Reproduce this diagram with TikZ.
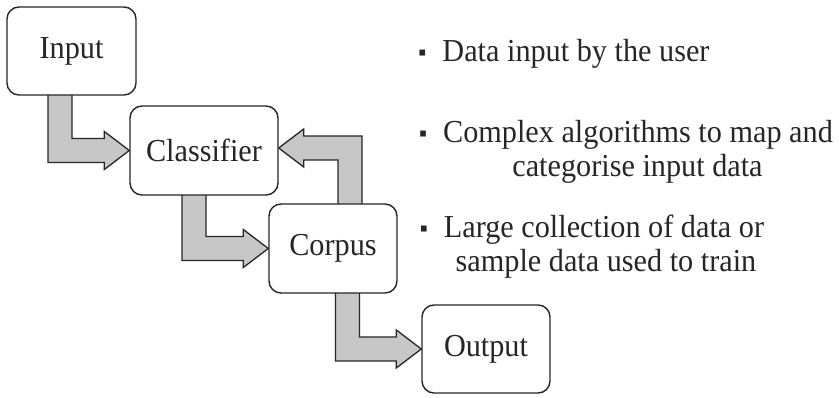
\documentclass[tikz,border=0pt]{standalone}
\usepackage{fontspec}
\setmainfont{Liberation Serif}
\newfontfamily\narrowfont{Liberation Serif}[FakeStretch=0.945]
\usetikzlibrary{calc,backgrounds}
\tikzset{
  box/.style={draw=black!85, line width=1.4pt, rounded corners=12pt, fill=white,
    inner sep=0pt, font=\narrowfont\fontsize{32}{36}\selectfont, text=black!85},
  fat/.style={draw=black!85, line width=1.3pt, fill=black!22, line join=miter},
  blt/.style={anchor=base, inner sep=0pt, text=black!85,
    font=\narrowfont\fontsize{32}{34}\selectfont},
}
\newcommand\downright[2]{\path[fat] let \p1=(#1), \p2=(#2) in
  (\x1-12pt,\y1+2pt) -- (\x1-12pt,\y2-12pt) -- (\x2-25pt,\y2-12pt) -- (\x2-25pt,\y2-19pt)
  -- (\x2,\y2) -- (\x2-25pt,\y2+19pt) -- (\x2-25pt,\y2+12pt) -- (\x1+12pt,\y2+12pt)
  -- (\x1+12pt,\y1+2pt) -- cycle;}
\newcommand\upleft[2]{\path[fat] let \p1=(#1), \p2=(#2) in
  (\x1+12pt,\y1-2pt) -- (\x1+12pt,\y2+12pt) -- (\x2+25pt,\y2+12pt) -- (\x2+25pt,\y2+19pt)
  -- (\x2,\y2) -- (\x2+25pt,\y2-19pt) -- (\x2+25pt,\y2-12pt) -- (\x1-12pt,\y2-12pt)
  -- (\x1-12pt,\y1-2pt) -- cycle;}
\newcommand\blet{\llap{\fontsize{24}{24}\selectfont\raisebox{1pt}{▪}\hspace{16pt}}}
\begin{document}
\begin{tikzpicture}[x=1pt,y=-1pt]
\useasboundingbox (0,0) rectangle (839,398);
\node[box, minimum width=129pt, minimum height=88pt] (in) at (71.5,51) {Input};
\node[box, minimum width=148pt, minimum height=89pt] (cl) at (204,150.5) {Classifier};
\node[box, minimum width=128pt, minimum height=89pt] (co) at (333,248.5) {Corpus};
\node[box, minimum width=128pt, minimum height=88pt] (ou) at (486,349) {Output};
\begin{pgfonlayer}{background}
\downright{[xshift=-11.5pt]in.south}{cl.west}
\downright{[xshift=-10pt]cl.south}{co.west}
\downright{[xshift=14.5pt]co.south}{ou.west}
\upleft{[xshift=17pt]co.north}{[yshift=2.5pt]cl.east}
\end{pgfonlayer}
\node[blt] (t1) at (576,62) {\blet Data input by the user};
\node[blt] (t2a) at (638,143) {\blet Complex algorithms to map and};
\node[blt] (t2b) at (637.5,177) {categorise input data};
\node[blt] (t3a) at (604,238) {\blet Large collection of data or};
\node[blt] (t3b) at (606,272) {sample data used to train};
\end{tikzpicture}
\end{document}
